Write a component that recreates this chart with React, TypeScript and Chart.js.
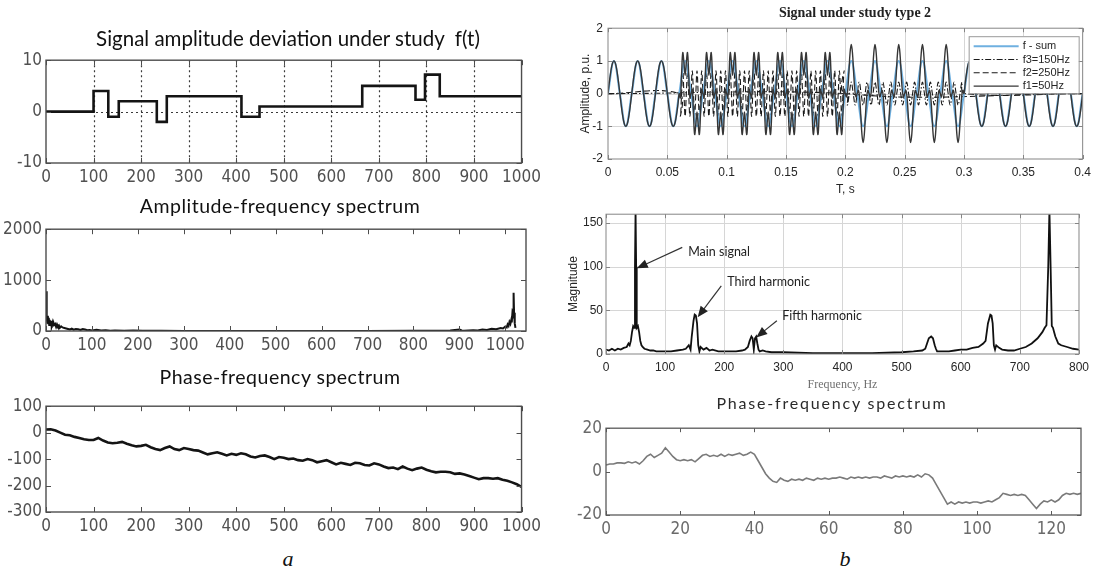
import React, { useEffect, useRef } from 'react';
import { Chart, registerables } from 'chart.js';

Chart.register(...registerables);

/* ================= DATA ================= */

/* a1: signal amplitude deviation f(t) (step levels start at given sample) */
const a1StepStarts = [0, 100, 131, 153, 233, 254, 411, 449, 665, 777, 797, 828, 1000];
const a1StepLevels = [0, 4, -1, 2, -2, 3, -1, 1, 5, 2.3, 7.2, 3, 3];
const a1XTicks = [0, 100, 200, 300, 400, 500, 600, 700, 800, 900, 1000];
const a1YTicks = [-10, 0, 10];

/* a2: amplitude-frequency spectrum */
const a2FreqBins = [
  0, 1, 2, 3, 4, 5, 6, 7, 8, 9, 10, 11, 12, 13, 14, 15, 16,
  18, 20, 22, 24, 26, 28, 30,
  33, 36, 40, 44, 48, 52, 56, 60,
  65, 70, 75, 80, 85, 90, 95, 100,
  110, 120, 130, 140, 150,
  170, 190, 210, 250, 300,
  400, 500, 600, 700, 800,
  850, 880, 900, 905, 910,
  930, 940, 950, 960, 970, 980, 990, 995,
  1000, 1003, 1005, 1007, 1009, 1011, 1013, 1014, 1015, 1016, 1017, 1018, 1019, 1020, 1021, 1022,
];
const a2Magnitude = [
  780, 430, 250, 160, 300, 150, 260, 120, 220, 140, 180, 110, 200, 100, 150, 90, 170,
  120, 140, 80, 130, 90, 110, 60,
  90, 70, 60, 50, 40, 30, 45, 25,
  40, 35, 20, 40, 30, 15, 20, 10,
  25, 8, 15, 5, 12,
  6, 10, 4, 3, 2,
  2, 1, 2, 2, 3,
  4, 8, 30, 10, 5,
  15, 10, 30, 20, 45, 35, 60, 50,
  90, 70, 130, 100, 180, 140, 220, 170, 300, 250, 420, 750, 360, 300, 150, 60,
];
const a2XTicks = [0, 100, 200, 300, 400, 500, 600, 700, 800, 900, 1000];
const a2YTicks = [0, 1000, 2000];

/* a3: phase-frequency spectrum, sampled every 10 */
const a3SampleStep = 10;
const a3Phase = [
  12, 13, 8, 0, -8, -10, -16, -20, -25, -28,
  -28, -20, -30, -37, -40, -38, -35, -42, -48, -52,
  -50, -46, -55, -62, -66, -58, -52, -62, -66, -58,
  -62, -66, -68, -75, -82, -78, -74, -80, -86, -80,
  -84, -78, -82, -90, -94, -88, -86, -92, -100, -92,
  -95, -100, -98, -104, -106, -100, -104, -112, -108, -104,
  -112, -120, -114, -118, -122, -114, -116, -122, -124, -116,
  -120, -128, -134, -132, -138, -128, -136, -142, -136, -132,
  -140, -146, -150, -148, -148, -150, -156, -154, -158, -164,
  -170, -176, -172, -172, -174, -172, -178, -182, -188, -195,
  -205,
];
const a3XTicks = [0, 100, 200, 300, 400, 500, 600, 700, 800, 900, 1000];
const a3YTicks = [-300, -200, -100, 0, 100];

/* b1: signal under study type 2 */
const b1SineStep = 0.005;
const b1Sine50 = [
  0, 1, 0, -1, 0, 1, 0, -1, 0, 1, 0, -1, 0, 1, 0, -1, 0, 1, 0, -1,
  0, 1, 0, -1, 0, 1, 0, -1, 0, 1, 0, -1, 0, 1, 0, -1, 0, 1, 0, -1,
  0, 1, 0, -1, 0, 1, 0, -1, 0, 1, 0, -1, 0, 1, 0, -1, 0, 1, 0, -1,
  0, 1, 0, -1, 0, 1, 0, -1, 0, 1, 0, -1, 0, 1, 0, -1, 0, 1, 0, -1,
  0,
];
const b1SumStep = 0.001;
const b1SumPart1 = [
  0, 0.31, 0.59, 0.81, 0.95, 1, 0.95, 0.81, 0.59, 0.31, 0, -0.31, -0.59, -0.81, -0.95, -1, -0.95, -0.81, -0.59, -0.31,
  0, 0.31, 0.59, 0.81, 0.95, 1, 0.95, 0.81, 0.59, 0.31, 0, -0.31, -0.59, -0.81, -0.95, -1, -0.95, -0.81, -0.59, -0.31,
  0, 0.31, 0.59, 0.81, 0.95, 1, 0.95, 0.81, 0.59, 0.31, 0, -0.31, -0.59, -0.81, -0.95, -1, -0.95, -0.81, -0.59, -0.31,
];
const b1SumPart2 = [
  0, -0.13, 0.59, 1.25, 0.95, 0.56, 0.95, 1.25, 0.59, -0.13, 0, 0.13, -0.59, -1.25, -0.95, -0.56, -0.95, -1.25, -0.59, 0.13,
  0, -0.13, 0.59, 1.25, 0.95, 0.56, 0.95, 1.25, 0.59, -0.13, 0, 0.13, -0.59, -1.25, -0.95, -0.56, -0.95, -1.25, -0.59, 0.13,
  0, -0.13, 0.59, 1.25, 0.95, 0.56, 0.95, 1.25, 0.59, -0.13, 0, 0.13, -0.59, -1.25, -0.95, -0.56, -0.95, -1.25, -0.59, 0.13,
  0, -0.13, 0.59, 1.25, 0.95, 0.56, 0.95, 1.25, 0.59, -0.13, 0, 0.13, -0.59, -1.25, -0.95, -0.56, -0.95, -1.25, -0.59, 0.13,
  0, -0.13, 0.59, 1.25, 0.95, 0.56, 0.95, 1.25, 0.59, -0.13, 0, 0.13, -0.59, -1.25, -0.95, -0.56, -0.95, -1.25, -0.59, 0.13,
  0, -0.13, 0.59, 1.25, 0.95, 0.56, 0.95, 1.25, 0.59, -0.13, 0, 0.13, -0.59, -1.25, -0.95, -0.56, -0.95, -1.25, -0.59, 0.13,
  0, -0.13, 0.59, 1.25, 0.95, 0.56, 0.95, 1.25, 0.59, -0.13, 0, 0.13, -0.59, -1.25, -0.95, -0.56, -0.95, -1.25, -0.59, 0.13,
];
const b1SumPart3 = [
  0, -0.1, 0.11, 0.65, 1.25, 1.5, 1.25, 0.65, 0.11, -0.1, 0, 0.1, -0.11, -0.65, -1.25, -1.5, -1.25, -0.65, -0.11, 0.1,
  0, -0.1, 0.11, 0.65, 1.25, 1.5, 1.25, 0.65, 0.11, -0.1, 0, 0.1, -0.11, -0.65, -1.25, -1.5, -1.25, -0.65, -0.11, 0.1,
  0, -0.1, 0.11, 0.65, 1.25, 1.5, 1.25, 0.65, 0.11, -0.1, 0, 0.1, -0.11, -0.65, -1.25, -1.5, -1.25, -0.65, -0.11, 0.1,
  0, -0.1, 0.11, 0.65, 1.25, 1.5, 1.25, 0.65, 0.11, -0.1, 0, 0.1, -0.11, -0.65, -1.25, -1.5, -1.25, -0.65, -0.11, 0.1,
  0, -0.1, 0.11, 0.65, 1.25, 1.5, 1.25, 0.65, 0.11, -0.1, 0, 0.1, -0.11, -0.65, -1.25, -1.5, -1.25, -0.65, -0.11, 0.1,
];
const b1SumPart4 = [
  0, 0.31, 0.59, 0.81, 0.95, 1, 0.95, 0.81, 0.59, 0.31, 0, -0.31, -0.59, -0.81, -0.95, -1, -0.95, -0.81, -0.59, -0.31,
  0, 0.31, 0.59, 0.81, 0.95, 1, 0.95, 0.81, 0.59, 0.31, 0, -0.31, -0.59, -0.81, -0.95, -1, -0.95, -0.81, -0.59, -0.31,
  0, 0.31, 0.59, 0.81, 0.95, 1, 0.95, 0.81, 0.59, 0.31, 0, -0.31, -0.59, -0.81, -0.95, -1, -0.95, -0.81, -0.59, -0.31,
  0, 0.31, 0.59, 0.81, 0.95, 1, 0.95, 0.81, 0.59, 0.31, 0, -0.31, -0.59, -0.81, -0.95, -1, -0.95, -0.81, -0.59, -0.31,
  0, 0.31, 0.59, 0.81, 0.95, 1, 0.95, 0.81, 0.59, 0.31, 0, -0.31, -0.59, -0.81, -0.95, -1, -0.95, -0.81, -0.59, -0.31,
  0,
];
const b1Comp250Start = 0.06;
const b1Comp250Step = 0.001;
const b1Comp250 = [
  0, -0.7, 0, 0.7, 0, -0.7, 0, 0.7, 0, -0.7, 0, 0.7, 0, -0.7, 0, 0.7, 0, -0.7, 0, 0.7,
  0, -0.7, 0, 0.7, 0, -0.7, 0, 0.7, 0, -0.7, 0, 0.7, 0, -0.7, 0, 0.7, 0, -0.7, 0, 0.7,
  0, -0.7, 0, 0.7, 0, -0.7, 0, 0.7, 0, -0.7, 0, 0.7, 0, -0.7, 0, 0.7, 0, -0.7, 0, 0.7,
  0, -0.7, 0, 0.7, 0, -0.7, 0, 0.7, 0, -0.7, 0, 0.7, 0, -0.7, 0, 0.7, 0, -0.7, 0, 0.7,
  0, -0.7, 0, 0.7, 0, -0.7, 0, 0.7, 0, -0.7, 0, 0.7, 0, -0.7, 0, 0.7, 0, -0.7, 0, 0.7,
  0, -0.7, 0, 0.7, 0, -0.7, 0, 0.7, 0, -0.7, 0, 0.7, 0, -0.7, 0, 0.7, 0, -0.7, 0, 0.7,
  0, -0.7, 0, 0.7, 0, -0.7, 0, 0.7, 0, -0.7, 0, 0.7, 0, -0.7, 0, 0.7, 0, -0.7, 0, 0.7,
  0,
];
const b1Comp150Start = 0.2;
const b1Comp150Step = 1 / 600;
const b1Comp150 = [
  0, -0.35, 0, 0.35, 0, -0.35, 0, 0.35, 0, -0.35, 0, 0.35, 0, -0.35, 0, 0.35, 0, -0.35, 0, 0.35,
  0, -0.35, 0, 0.35, 0, -0.35, 0, 0.35, 0, -0.35, 0, 0.35, 0, -0.35, 0, 0.35, 0, -0.35, 0, 0.35,
  0, -0.35, 0, 0.35, 0, -0.35, 0, 0.35, 0, -0.35, 0, 0.35, 0, -0.35, 0, 0.35, 0, -0.35, 0, 0.35,
  0,
];
const b1SeriesLabels = ['f - sum', 'f3=150Hz', 'f2=250Hz', 'f1=50Hz'];
const b1XTicks = [0, 0.05, 0.1, 0.15, 0.2, 0.25, 0.3, 0.35, 0.4];
const b1XTickLabels = ['0', '0.05', '0.1', '0.15', '0.2', '0.25', '0.3', '0.35', '0.4'];
const b1YTicks = [-2, -1, 0, 1, 2];

/* b2: magnitude spectrum */
const b2Freq = [
  0, 5, 10, 15, 20, 25, 30, 35, 38, 40,
  42, 44, 46, 48, 49, 50, 51, 52, 54, 56,
  58, 60, 62, 65, 70, 75, 80, 85, 90, 100,
  110, 120, 130, 135, 140, 143, 145, 148, 150, 152,
  154, 156, 158, 160, 165, 170, 175, 180, 190, 200,
  210, 220, 230, 235, 240, 243, 246, 248, 250, 252,
  254, 256, 258, 260, 265, 270, 280, 300, 350, 400,
  450, 500, 520, 535, 540, 543, 546, 550, 553, 556,
  558, 560, 570, 580, 590, 600, 610, 620, 630, 638,
  642, 646, 650, 652, 654, 656, 658, 660, 665, 670,
  680, 690, 700, 710, 720, 730, 738, 742, 745, 748,
  750, 752, 754, 756, 758, 760, 765, 770, 780, 790,
  800,
];
const b2Mag = [
  5, 4, 6, 4, 6, 5, 7, 8, 12, 10,
  15, 25, 32, 30, 100, 165, 100, 30, 32, 25,
  15, 10, 8, 6, 5, 4, 4, 3, 3, 3,
  3, 4, 5, 6, 10, 5, 20, 38, 45, 44,
  35, 10, 3, 8, 5, 7, 4, 5, 3, 3,
  3, 3, 4, 5, 8, 15, 20, 18, 5, 18,
  20, 12, 5, 3, 4, 3, 2, 2, 1, 1,
  1, 2, 3, 4, 6, 12, 18, 20, 18, 10,
  6, 3, 3, 3, 4, 5, 5, 7, 8, 12,
  15, 35, 45, 44, 35, 10, 5, 10, 7, 5,
  4, 4, 6, 8, 12, 18, 25, 30, 33, 100,
  165, 100, 32, 30, 25, 20, 12, 10, 8, 6,
  5,
];
const b2XTicks = [0, 100, 200, 300, 400, 500, 600, 700, 800];
const b2YTicks = [0, 50, 100, 150];
const b2NoteTexts = ['Main signal', 'Third harmonic', 'Fifth harmonic'];

/* b3: phase-frequency spectrum, one sample per bin */
const b3Phase = [
  3, 3.5, 3.5, 4, 4, 3.8, 4.5, 4, 4.5, 3.5,
  5, 7, 8, 6.5, 7.5, 8.5, 11, 9, 7, 5.5,
  5, 5.5, 5, 5.5, 4.5, 6, 7.5, 8, 7, 7.5,
  7, 8, 7, 8, 7.5, 8, 8.5, 7.5, 8, 9,
  8, 5, 2, -1, -3, -4.5, -5, -3, -4, -4.5,
  -3.5, -4, -3.5, -4, -3, -3.5, -4, -3, -3.5, -3,
  -3.5, -3, -3, -2.5, -3, -3.5, -2.5, -3, -2.5, -3,
  -2.5, -3, -2.5, -2.5, -3, -2, -2.5, -3, -2, -2.5,
  -2, -2.5, -2, -2.5, -1.5, -2.5, -1, -1.5, -3, -6,
  -9, -12, -15, -14, -15, -14, -14.5, -14, -14.5, -14,
  -14, -14.5, -14, -13.5, -14, -13, -12, -10, -10.5, -11,
  -10.5, -11, -10.5, -11, -13, -15, -17, -15, -13.5, -14,
  -13, -14, -13, -11, -10, -10.5, -10, -10.5, -10,
];
const b3XTicks = [0, 20, 40, 60, 80, 100, 120];
const b3YTicks = [-20, 0, 20];

/* ================= LAYOUT / STYLE ================= */

const GEO = {
  a1: { L: 46, T: 52, R: 527, B: 163, ml: 46, mt: 6, mr: 18, mb: 30 },
  a2: { L: 46, T: 221, R: 526, B: 331, ml: 46, mt: 6, mr: 18, mb: 30 },
  a3: { L: 46, T: 398, R: 527, B: 512, ml: 46, mt: 6, mr: 18, mb: 30 },
  b1: { L: 608, T: 22, R: 1087, B: 159, ml: 30, mt: 6, mr: 10, mb: 38 },
  b2: { L: 606, T: 210, R: 1083, B: 354, ml: 40, mt: 6, mr: 12, mb: 38 },
  b3: { L: 606, T: 420, R: 1081, B: 515, ml: 44, mt: 6, mr: 14, mb: 30 },
};

const canvasBox = (g) => ({
  left: g.L - g.ml,
  top: g.T - g.mt,
  width: g.ml + (g.R - g.L) + g.mr,
  height: g.mt + (g.B - g.T) + g.mb,
});

const FONT_NARROW = "'Liberation Sans Narrow','DejaVu Sans Condensed','Liberation Sans',sans-serif";
const FONT_ARIAL = "'Liberation Sans',Arial,sans-serif";
const FONT_CAL = "Lato,'Open Sans',sans-serif";
const FONT_SERIF = "'Liberation Serif','Times New Roman',serif";

function framePlugin(o) {
  return {
    id: 'matlabFrame',
    beforeDatasetsDraw(chart) {
      if (!o.grid) return;
      const { ctx, chartArea: a } = chart;
      const xs = chart.scales.x;
      const ys = chart.scales.y;
      ctx.save();
      ctx.strokeStyle = o.gridColor;
      ctx.lineWidth = o.gridWidth || 1;
      ctx.setLineDash(o.gridDash || []);
      ctx.beginPath();
      for (const t of xs.ticks) {
        const p = Math.round(xs.getPixelForValue(t.value)) + 0.5;
        if (p > a.left + 2 && p < a.right - 2) {
          ctx.moveTo(p, a.top);
          ctx.lineTo(p, a.bottom);
        }
      }
      for (const t of ys.ticks) {
        const p = Math.round(ys.getPixelForValue(t.value)) + 0.5;
        if (p > a.top + 2 && p < a.bottom - 2) {
          ctx.moveTo(a.left, p);
          ctx.lineTo(a.right, p);
        }
      }
      ctx.stroke();
      ctx.restore();
    },
    afterDatasetsDraw(chart) {
      const { ctx, chartArea: a } = chart;
      const xs = chart.scales.x;
      const ys = chart.scales.y;
      ctx.save();
      ctx.strokeStyle = o.tickColor;
      ctx.lineWidth = 1;
      ctx.beginPath();
      for (const t of xs.ticks) {
        const p = Math.round(xs.getPixelForValue(t.value)) + 0.5;
        ctx.moveTo(p, a.bottom);
        ctx.lineTo(p, a.bottom - o.tick);
        ctx.moveTo(p, a.top);
        ctx.lineTo(p, a.top + o.tick);
      }
      for (const t of ys.ticks) {
        const p = Math.round(ys.getPixelForValue(t.value)) + 0.5;
        ctx.moveTo(a.left, p);
        ctx.lineTo(a.left + o.tick, p);
        ctx.moveTo(a.right, p);
        ctx.lineTo(a.right - o.tick, p);
      }
      ctx.stroke();
      ctx.strokeStyle = o.box;
      ctx.lineWidth = o.boxWidth;
      ctx.strokeRect(a.left, a.top, a.right - a.left, a.bottom - a.top);
      ctx.restore();
    },
  };
}

function axis(o) {
  return {
    type: 'linear',
    min: o.min,
    max: o.max,
    grid: { display: false, drawTicks: false },
    border: { display: false },
    ticks: {
      font: o.font,
      color: o.color,
      padding: o.padding,
      autoSkip: false,
      maxRotation: 0,
      minRotation: 0,
      includeBounds: false,
      callback: (_v, i) => o.labels[i],
    },
    afterBuildTicks: (s) => {
      s.ticks = o.ticks.map((v) => ({ value: v }));
    },
    afterFit: (s) => {
      if (o.horizontal) s.height = o.size;
      else s.width = o.size;
    },
    title: o.title || { display: false },
  };
}

function baseOptions(g, x, y) {
  return {
    responsive: false,
    maintainAspectRatio: false,
    animation: false,
    events: [],
    layout: { autoPadding: false, padding: { left: 0, top: g.mt, right: g.mr, bottom: 0 } },
    plugins: { legend: { display: false }, tooltip: { enabled: false }, title: { display: false } },
    elements: { point: { radius: 0 } },
    scales: { x, y },
  };
}

const pts = (xs, ys) => xs.map((x, i) => ({ x, y: ys[i] }));
const sampled = (start, step, ys) => ys.map((y, i) => ({ x: start + i * step, y }));

const A_TICK_FONT = { family: FONT_NARROW, size: 17 };
const A_TICK_COLOR = '#505050';
const A_FRAME = { box: '#4d4d4d', boxWidth: 1.4, tick: 5, tickColor: '#4d4d4d' };

function configA1() {
  const g = GEO.a1;
  return {
    type: 'line',
    data: {
      datasets: [{
        data: pts(a1StepStarts, a1StepLevels),
        stepped: true,
        borderColor: '#141414',
        borderWidth: 2.6,
        pointRadius: 0,
        fill: false,
      }],
    },
    options: baseOptions(
      g,
      axis({ min: 0, max: 1000, ticks: a1XTicks, labels: a1XTicks.map(String), size: g.mb, horizontal: true, font: A_TICK_FONT, color: A_TICK_COLOR, padding: 4 }),
      axis({ min: -10, max: 10, ticks: a1YTicks, labels: a1YTicks.map(String), size: g.ml, horizontal: false, font: A_TICK_FONT, color: A_TICK_COLOR, padding: 4 }),
    ),
    plugins: [framePlugin({ ...A_FRAME, grid: true, gridColor: '#3a3a3a', gridWidth: 1.2, gridDash: [2, 3] })],
  };
}

function configA2() {
  const g = GEO.a2;
  return {
    type: 'line',
    data: {
      datasets: [{
        data: pts(a2FreqBins, a2Magnitude),
        borderColor: '#141414',
        borderWidth: 2,
        pointRadius: 0,
        fill: false,
      }],
    },
    options: baseOptions(
      g,
      axis({ min: 0, max: 1045, ticks: a2XTicks, labels: a2XTicks.map(String), size: g.mb, horizontal: true, font: A_TICK_FONT, color: A_TICK_COLOR, padding: 4 }),
      axis({ min: 0, max: 2000, ticks: a2YTicks, labels: a2YTicks.map(String), size: g.ml, horizontal: false, font: A_TICK_FONT, color: A_TICK_COLOR, padding: 4 }),
    ),
    plugins: [framePlugin({ ...A_FRAME })],
  };
}

function configA3() {
  const g = GEO.a3;
  return {
    type: 'line',
    data: {
      datasets: [{
        data: sampled(0, a3SampleStep, a3Phase),
        borderColor: '#141414',
        borderWidth: 2.6,
        pointRadius: 0,
        fill: false,
      }],
    },
    options: baseOptions(
      g,
      axis({ min: 0, max: 1000, ticks: a3XTicks, labels: a3XTicks.map(String), size: g.mb, horizontal: true, font: A_TICK_FONT, color: A_TICK_COLOR, padding: 4 }),
      axis({ min: -300, max: 100, ticks: a3YTicks, labels: a3YTicks.map(String), size: g.ml, horizontal: false, font: A_TICK_FONT, color: A_TICK_COLOR, padding: 4 }),
    ),
    plugins: [framePlugin({ ...A_FRAME })],
  };
}

const B_TICK_FONT = { family: FONT_ARIAL, size: 12 };
const B_TICK_COLOR = '#262626';
const B_FRAME = { box: '#858585', boxWidth: 1, tick: 4, tickColor: '#858585', grid: true, gridColor: '#d6d6d6', gridWidth: 1 };

const b1LegendPlugin = {
  id: 'b1Legend',
  afterDatasetsDraw(chart) {
    const { ctx, chartArea: a } = chart;
    const w = 110;
    const h = 57;
    const x0 = a.right - w - 4;
    const y0 = a.top + 8;
    ctx.save();
    ctx.fillStyle = '#ffffff';
    ctx.fillRect(x0, y0, w, h);
    ctx.strokeStyle = '#9a9a9a';
    ctx.lineWidth = 1;
    ctx.strokeRect(x0 + 0.5, y0 + 0.5, w, h);
    b1SeriesLabels.forEach((label, i) => {
      const ds = chart.data.datasets.find((d) => d.label === label);
      const yy = y0 + 10 + i * 13.3;
      ctx.strokeStyle = ds.borderColor;
      ctx.lineWidth = ds.borderWidth;
      ctx.setLineDash(ds.borderDash || []);
      ctx.beginPath();
      ctx.moveTo(x0 + 5, yy);
      ctx.lineTo(x0 + 50, yy);
      ctx.stroke();
      ctx.setLineDash([]);
      ctx.fillStyle = '#262626';
      ctx.font = `11px ${FONT_ARIAL}`;
      ctx.textBaseline = 'middle';
      ctx.fillText(label, x0 + 54, yy);
    });
    ctx.restore();
  },
};

function configB1() {
  const g = GEO.b1;
  const sum = [...b1SumPart1, ...b1SumPart2, ...b1SumPart3, ...b1SumPart4];
  return {
    type: 'line',
    data: {
      datasets: [
        { label: 'f1=50Hz', data: sampled(0, b1SumStep, sum), borderColor: '#363636', borderWidth: 1.4, tension: 0.4, pointRadius: 0, fill: false },
        { label: 'f - sum', data: sampled(0, b1SineStep, b1Sine50), borderColor: '#6fb0e0', borderWidth: 2, tension: 0.4, pointRadius: 0, fill: false },
        { label: 'f2=250Hz', data: [{ x: 0, y: 0 }, ...sampled(b1Comp250Start, b1Comp250Step, b1Comp250), { x: 0.4, y: 0 }], borderColor: '#1a1a1a', borderWidth: 1.1, borderDash: [6, 3], tension: 0.4, pointRadius: 0, fill: false },
        { label: 'f3=150Hz', data: [{ x: 0, y: 0 }, ...sampled(b1Comp150Start, b1Comp150Step, b1Comp150), { x: 0.4, y: 0 }], borderColor: '#1a1a1a', borderWidth: 1.1, borderDash: [6, 2, 1.5, 2], tension: 0.4, pointRadius: 0, fill: false },
      ],
    },
    options: baseOptions(
      g,
      axis({
        min: 0, max: 0.4, ticks: b1XTicks, labels: b1XTickLabels, size: g.mb, horizontal: true, font: B_TICK_FONT, color: B_TICK_COLOR, padding: 6,
        title: { display: true, text: 'T, s', font: { family: FONT_ARIAL, size: 12 }, color: '#262626', padding: { top: 0, bottom: 0 } },
      }),
      axis({
        min: -2, max: 2, ticks: b1YTicks, labels: b1YTicks.map(String), size: g.ml, horizontal: false, font: B_TICK_FONT, color: B_TICK_COLOR, padding: 5,
        title: { display: true, text: 'Amplitude, p.u.', font: { family: FONT_ARIAL, size: 12 }, color: '#262626', padding: { top: 0, bottom: 0 } },
      }),
    ),
    plugins: [framePlugin({ ...B_FRAME }), b1LegendPlugin],
  };
}

const b2Notes = [
  { at: [139, 117], tail: [129, 122], tip: [52, 98] },
  { at: [205, 83], tail: [195, 78], tip: [155, 42] },
  { at: [298, 43], tail: [289, 38], tip: [254, 19] },
];

const b2NotesPlugin = {
  id: 'b2Notes',
  afterDatasetsDraw(chart) {
    const { ctx } = chart;
    const xs = chart.scales.x;
    const ys = chart.scales.y;
    ctx.save();
    b2Notes.forEach((n, i) => {
      const sx = xs.getPixelForValue(n.tail[0]);
      const sy = ys.getPixelForValue(n.tail[1]);
      const tx = xs.getPixelForValue(n.tip[0]);
      const ty = ys.getPixelForValue(n.tip[1]);
      const ang = Math.atan2(ty - sy, tx - sx);
      const c = Math.cos(ang);
      const s = Math.sin(ang);
      ctx.strokeStyle = '#333';
      ctx.fillStyle = '#222';
      ctx.lineWidth = 1.2;
      ctx.beginPath();
      ctx.moveTo(sx, sy);
      ctx.lineTo(tx - 8 * c, ty - 8 * s);
      ctx.stroke();
      ctx.beginPath();
      ctx.moveTo(tx, ty);
      ctx.lineTo(tx - 11 * c + 4.5 * s, ty - 11 * s - 4.5 * c);
      ctx.lineTo(tx - 11 * c - 4.5 * s, ty - 11 * s + 4.5 * c);
      ctx.closePath();
      ctx.fill();
      ctx.font = `12.5px ${FONT_CAL}`;
      ctx.textBaseline = 'middle';
      ctx.fillStyle = '#222';
      ctx.fillText(b2NoteTexts[i], xs.getPixelForValue(n.at[0]), ys.getPixelForValue(n.at[1]));
    });
    ctx.restore();
  },
};

function configB2() {
  const g = GEO.b2;
  return {
    type: 'line',
    data: {
      datasets: [{
        data: pts(b2Freq, b2Mag),
        borderColor: '#111',
        borderWidth: 1.8,
        pointRadius: 0,
        fill: false,
      }],
    },
    options: baseOptions(
      g,
      axis({
        min: 0, max: 800, ticks: b2XTicks, labels: b2XTicks.map(String), size: g.mb, horizontal: true, font: B_TICK_FONT, color: B_TICK_COLOR, padding: 6,
        title: { display: true, text: 'Frequency, Hz', font: { family: FONT_SERIF, size: 12 }, color: '#707070', padding: { top: 0, bottom: 0 } },
      }),
      axis({
        min: 0, max: 160, ticks: b2YTicks, labels: b2YTicks.map(String), size: g.ml, horizontal: false, font: B_TICK_FONT, color: B_TICK_COLOR, padding: 3,
        title: { display: true, text: 'Magnitude', font: { family: FONT_ARIAL, size: 12 }, color: '#262626', padding: { top: 0, bottom: 0 } },
      }),
    ),
    plugins: [framePlugin({ ...B_FRAME }), b2NotesPlugin],
  };
}

function configB3() {
  const g = GEO.b3;
  return {
    type: 'line',
    data: {
      datasets: [{
        data: sampled(0, 1, b3Phase),
        borderColor: '#7a7a7a',
        borderWidth: 1.6,
        pointRadius: 0,
        fill: false,
      }],
    },
    options: baseOptions(
      g,
      axis({ min: 0, max: 128, ticks: b3XTicks, labels: b3XTicks.map(String), size: g.mb, horizontal: true, font: A_TICK_FONT, color: '#6a6a6a', padding: 4 }),
      axis({ min: -20, max: 20, ticks: b3YTicks, labels: b3YTicks.map(String), size: g.ml, horizontal: false, font: A_TICK_FONT, color: '#6a6a6a', padding: 4 }),
    ),
    plugins: [framePlugin({ box: '#5a5a5a', boxWidth: 1.3, tick: 4, tickColor: '#5a5a5a' })],
  };
}

const PANELS = [
  { key: 'a1', make: configA1 },
  { key: 'a2', make: configA2 },
  { key: 'a3', make: configA3 },
  { key: 'b1', make: configB1 },
  { key: 'b2', make: configB2 },
  { key: 'b3', make: configB3 },
];

const TITLES = [
  { text: 'Signal amplitude deviation under study  f(t)', cx: 288, cy: 38, size: 20.5, family: FONT_CAL, weight: 400, color: '#111', spacing: 0, italic: false },
  { text: 'Amplitude-frequency spectrum', cx: 280, cy: 206, size: 19.5, family: FONT_CAL, weight: 400, color: '#111', spacing: 0.5, italic: false },
  { text: 'Phase-frequency spectrum', cx: 280, cy: 377, size: 19.5, family: FONT_CAL, weight: 400, color: '#111', spacing: 0.5, italic: false },
  { text: 'Signal under study type 2', cx: 855, cy: 13, size: 14, family: FONT_SERIF, weight: 700, color: '#222', spacing: 0, italic: false },
  { text: 'Phase-frequency spectrum', cx: 832, cy: 403, size: 16, family: FONT_CAL, weight: 400, color: '#2a2a2a', spacing: 1.8, italic: false },
  { text: 'a', cx: 288, cy: 559, size: 22, family: FONT_SERIF, weight: 400, color: '#111', spacing: 0, italic: true },
  { text: 'b', cx: 845, cy: 559, size: 22, family: FONT_SERIF, weight: 400, color: '#111', spacing: 0, italic: true },
];

export default function App() {
  const r0 = useRef(null);
  const r1 = useRef(null);
  const r2 = useRef(null);
  const r3 = useRef(null);
  const r4 = useRef(null);
  const r5 = useRef(null);
  const refs = [r0, r1, r2, r3, r4, r5];

  useEffect(() => {
    const charts = PANELS.map((p, i) => new Chart(refs[i].current, p.make()));
    return () => charts.forEach((c) => c.destroy());
  }, []);

  return (
    <div style={{ position: 'absolute', left: 0, top: 0, width: 1094, height: 567, background: '#fff', overflow: 'hidden' }}>
      {PANELS.map((p, i) => {
        const b = canvasBox(GEO[p.key]);
        return (
          <canvas
            key={p.key}
            ref={refs[i]}
            width={b.width}
            height={b.height}
            style={{ position: 'absolute', left: b.left, top: b.top, width: b.width, height: b.height }}
          />
        );
      })}
      {TITLES.map((t, i) => (
        <div
          key={i}
          style={{
            position: 'absolute',
            left: t.cx - 300,
            width: 600,
            top: t.cy - t.size * 0.6,
            lineHeight: `${t.size * 1.2}px`,
            fontSize: t.size,
            fontFamily: t.family,
            fontWeight: t.weight,
            fontStyle: t.italic ? 'italic' : 'normal',
            letterSpacing: t.spacing,
            color: t.color,
            textAlign: 'center',
            whiteSpace: 'pre',
          }}
        >
          {t.text}
        </div>
      ))}
    </div>
  );
}
